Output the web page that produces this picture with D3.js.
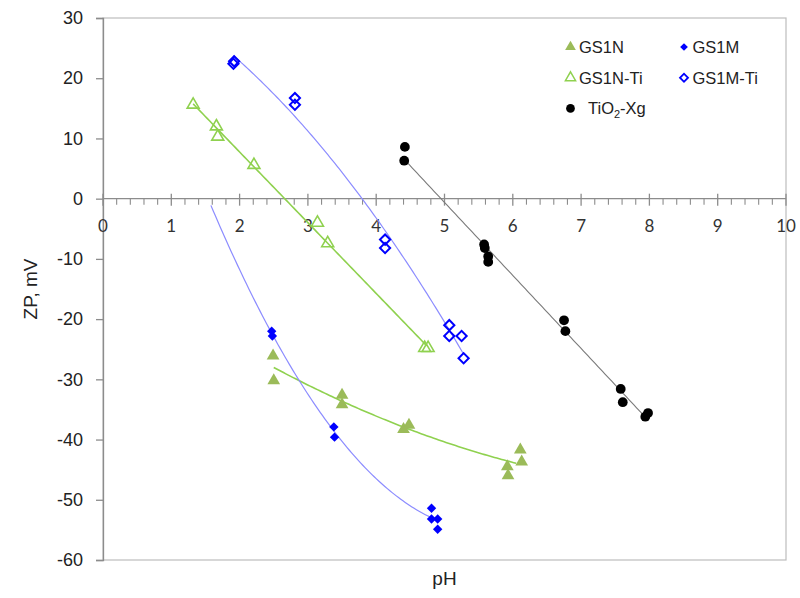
<!DOCTYPE html>
<html><head><meta charset="utf-8">
<script src="https://cdn.jsdelivr.net/npm/d3@7"></script>
<style>body{margin:0;background:#fff}</style>
</head><body>
<svg id="c" width="800" height="598"></svg>
<script>
// ---- data ----
const xTicks = [0,1,2,3,4,5,6,7,8,9,10];
const yTicks = [30,20,10,0,-10,-20,-30,-40,-50,-60];

const gs1nX = [2.49,2.50,3.50,3.50,4.40,4.48,5.92,5.93,6.11,6.13];
const gs1nY = [-26.1,-30.2,-32.6,-34.2,-38.3,-37.6,-44.5,-46.0,-41.7,-43.7];
const gs1nTiX = [1.32,1.66,1.68,2.21,3.14,3.29,4.71,4.76];
const gs1nTiY = [15.6,12.0,10.3,5.6,-4.0,-7.4,-24.8,-24.8];
const gs1mX = [2.47,2.48,3.38,3.39,4.81,4.81,4.90,4.90];
const gs1mY = [-22.0,-22.8,-37.9,-39.6,-51.4,-53.2,-53.2,-54.9];
const gs1mTiX = [1.91,1.92,2.81,2.81,4.13,4.13,5.07,5.07,5.25,5.28];
const gs1mTiY = [22.4,22.8,16.7,15.6,-6.8,-8.2,-21.0,-22.8,-22.8,-26.5];
const tioX = [4.42,4.41,5.58,5.59,5.64,5.64,6.75,6.77,7.58,7.61,7.94,7.98];
const tioY = [8.6,6.3,-7.6,-8.2,-9.6,-10.5,-20.2,-22.0,-31.6,-33.8,-36.2,-35.6];

// trendline ranges [from, to] and polynomial order
const gs1nTrend = [2.50, 6.05, 2];
const gs1nTiTrend = [1.32, 4.74, 1];
const gs1mTrend = [1.58, 4.85, 2];
const gs1mTiTrend = [1.91, 5.28, 2];
const tioTrend = [4.42, 7.95, 1];

// ---- helpers ----
function polyfit(xs, ys, order){
  const n = order+1;
  const A = Array.from({length:n},()=>Array(n+1).fill(0));
  for(let i=0;i<xs.length;i++){
    for(let r=0;r<n;r++){
      for(let c=0;c<n;c++) A[r][c]+=Math.pow(xs[i],r+c);
      A[r][n]+=ys[i]*Math.pow(xs[i],r);
    }
  }
  for(let i=0;i<n;i++){
    let p=i; for(let k=i+1;k<n;k++) if(Math.abs(A[k][i])>Math.abs(A[p][i])) p=k;
    [A[i],A[p]]=[A[p],A[i]];
    for(let k=i+1;k<n;k++){const f=A[k][i]/A[i][i]; for(let j=i;j<=n;j++) A[k][j]-=f*A[i][j];}
  }
  const co=Array(n).fill(0);
  for(let i=n-1;i>=0;i--){let s=A[i][n]; for(let j=i+1;j<n;j++) s-=A[i][j]*co[j]; co[i]=s/A[i][i];}
  return x=>co.reduce((s,c,i)=>s+c*Math.pow(x,i),0);
}

const svg = d3.select('#c');
const L=103, R=786, T=18, B=560;
const x = d3.scaleLinear().domain([0,10]).range([L,R]);
const y = d3.scaleLinear().domain([-60,30]).range([B,T]);
const axisCol = '#8c8c8c';

// plot border
svg.append('rect').attr('x',L).attr('y',T).attr('width',R-L).attr('height',B-T)
  .attr('fill','none').attr('stroke','#bdbdbd').attr('stroke-width',1.2);

// y axis
const yAxis = svg.append('g').attr('transform',`translate(${L},0)`)
  .call(d3.axisLeft(y).tickValues(yTicks).tickSize(7).tickPadding(13).tickFormat(d=>String(d)));
yAxis.select('.domain').attr('stroke',axisCol).attr('stroke-width',1.3);
yAxis.selectAll('.tick line').attr('stroke',axisCol).attr('stroke-width',1.3);
yAxis.selectAll('.tick text').attr('font-family','"Liberation Sans", Arial, sans-serif')
  .attr('font-size',18).attr('fill','#222');

// x axis at y=0
const y0 = y(0);
const xg = svg.append('g').attr('transform',`translate(0,${y0})`);
xg.append('line').attr('x1',L).attr('x2',R).attr('stroke',axisCol).attr('stroke-width',1.3);
const minor = d3.range(0,50).map(i=>i/5).filter(v=>Math.abs(v-Math.round(v))>1e-6);
xg.selectAll('.mn').data(minor).join('line').attr('x1',d=>x(d)).attr('x2',d=>x(d))
  .attr('y1',0).attr('y2',6).attr('stroke',axisCol).attr('stroke-width',1.1);
xg.selectAll('.mj').data(xTicks).join('line').attr('x1',d=>x(d)).attr('x2',d=>x(d))
  .attr('y1',-5).attr('y2',7).attr('stroke',axisCol).attr('stroke-width',1.3);
xg.selectAll('.lb').data(xTicks).join('text').attr('x',d=>x(d)).attr('y',33)
  .attr('text-anchor','middle').attr('font-family','Lato, "Open Sans", sans-serif')
  .attr('font-size',17).attr('fill','#333').text(d=>d);

// axis titles
svg.append('text').attr('x',x(5)).attr('y',585).attr('text-anchor','middle')
  .attr('font-family','"Liberation Sans", Arial, sans-serif').attr('font-size',19).attr('fill','#222').text('pH');
svg.append('text').attr('transform',`translate(37,${y(-15)}) rotate(-90)`).attr('text-anchor','middle')
  .attr('font-family','"Liberation Sans", Arial, sans-serif').attr('font-size',19).attr('fill','#222').text('ZP, mV');

// trendlines
function trend(xs, ys, tr, col, w){
  const f = polyfit(xs, ys, tr[2]);
  const pts = d3.range(0,101).map(i=>tr[0]+(tr[1]-tr[0])*i/100);
  svg.append('path').datum(pts).attr('fill','none').attr('stroke',col).attr('stroke-width',w)
    .attr('d', d3.line().x(d=>x(d)).y(d=>y(f(d))));
}
trend(gs1nTiX, gs1nTiY, gs1nTiTrend, '#8fd14f', 1.6);
trend(gs1nX, gs1nY, gs1nTrend, '#8fd14f', 1.6);
trend(gs1mX, gs1mY, gs1mTrend, '#8c8cff', 1.2);
trend(gs1mTiX, gs1mTiY, gs1mTiTrend, '#8c8cff', 1.2);
trend(tioX, tioY, tioTrend, '#7a7a7a', 1.1);

// markers
const sq = s => d3.symbol().type(d3.symbolSquare).size(s)();
const sym = {
  tri: d3.symbol().type(d3.symbolTriangle).size(70)(),
  triO: d3.symbol().type(d3.symbolTriangle).size(62)(),
  dia: sq(44),
  diaO: sq(52),
  cir: d3.symbol().type(d3.symbolCircle).size(75)()
};
function pts(xs, ys, path, fill, stroke, sw, rot){
  svg.append('g').selectAll('path').data(xs.map((v,i)=>[v,ys[i]])).join('path')
    .attr('d',path).attr('transform',d=>`translate(${x(d[0])},${y(d[1])}) rotate(${rot||0})`)
    .attr('fill',fill).attr('stroke',stroke).attr('stroke-width',sw);
}
pts(gs1nX, gs1nY, sym.tri, '#9bbb59', 'none', 0);
pts(gs1nTiX, gs1nTiY, sym.triO, 'none', '#8fd14f', 1.6);
pts(gs1mX, gs1mY, sym.dia, '#0000ff', 'none', 0, 45);
pts(gs1mTiX, gs1mTiY, sym.diaO, 'none', '#0000ff', 2, 45);
pts(tioX, tioY, sym.cir, '#000', 'none', 0);

// legend
const legendNames = ['GS1N','GS1M','GS1N-Ti','GS1M-Ti','TiO2-Xg'];
const legendSym = [
  [d3.symbol().type(d3.symbolTriangle).size(50)(),'#9bbb59','none',0,0],
  [sq(30),'#0000ff','none',0,45],
  [d3.symbol().type(d3.symbolTriangle).size(45)(),'none','#8fd14f',1.5,0],
  [sq(32),'none','#0000ff',1.8,45],
  [d3.symbol().type(d3.symbolCircle).size(60)(),'#000','none',0,0]];
const lg = svg.append('g');
legendNames.forEach((n,i)=>{
  const col=i%2, row=Math.floor(i/2);
  const sx = col? 684 : 570.5, sy = 47+row*30.7;
  const s = legendSym[i];
  lg.append('path').attr('d', s[0])
    .attr('transform',`translate(${sx},${sy}) rotate(${s[4]})`).attr('fill',s[1]).attr('stroke',s[2]).attr('stroke-width',s[3]);
  const t = lg.append('text').attr('x', i===4? 588 : sx+8.5).attr('y', sy+6)
    .attr('font-family','"Liberation Sans", Arial, sans-serif').attr('font-size',16.5).attr('fill','#222');
  if(n==='TiO2-Xg'){
    t.append('tspan').text('TiO');
    t.append('tspan').attr('font-size',11).attr('dy',4).text('2');
    t.append('tspan').attr('dy',-4).text('-Xg');
  } else t.text(n);
});
</script>
</body></html>
